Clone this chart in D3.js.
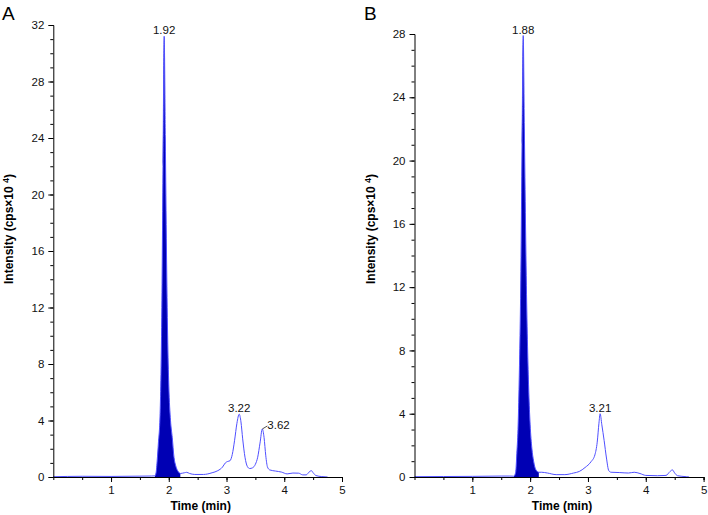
<!DOCTYPE html>
<html>
<head>
<meta charset="utf-8">
<script src="https://cdn.jsdelivr.net/npm/d3@7"></script>
<style>
  body { margin: 0; background: #fff; }
  svg { font-family: "Liberation Sans", Arial, sans-serif; }
</style>
</head>
<body>
<svg id="chart" width="708" height="515"></svg>
<script>
// Chromatogram A (time in min, intensity in cps x 10^4)
const timeA = [0, 0.5, 1.0, 1.5, 1.7, 1.76, 1.78, 1.80, 1.82, 1.85, 1.88, 1.90, 1.92, 1.94, 1.96, 1.98, 2.00, 2.03, 2.06, 2.09, 2.12, 2.16, 2.2,
  2.27, 2.31, 2.36, 2.45, 2.6, 2.75, 2.85, 2.93, 2.98, 3.02, 3.06, 3.1, 3.14, 3.18, 3.22, 3.25, 3.28, 3.32, 3.36, 3.4, 3.45, 3.5, 3.54, 3.58,
  3.62, 3.65, 3.68, 3.71, 3.75, 3.85, 3.95, 4.05, 4.15, 4.25, 4.32, 4.38, 4.43, 4.47, 4.5, 4.55, 4.65, 4.75];
const intensityA = [0.02, 0.05, 0.04, 0.06, 0.07, 0.08, 0.3, 1.2, 2.4, 4.5, 12, 22, 31.2, 24, 16, 10, 6.5, 4, 2.8, 1.4, 0.8, 0.4, 0.25,
  0.3, 0.33, 0.25, 0.18, 0.18, 0.3, 0.45, 0.7, 1.0, 1.1, 1.15, 1.6, 2.6, 3.8, 4.45, 3.9, 2.7, 1.4, 0.75, 0.6, 0.65, 0.9, 1.4, 2.4,
  3.4, 2.8, 1.5, 0.7, 0.5, 0.42, 0.35, 0.22, 0.28, 0.27, 0.15, 0.15, 0.35, 0.45, 0.3, 0.1, 0.03, 0];
const fillRangeA = [1.76, 2.2];
const peaksA = [
  { t: 1.92, y: 31.2, label: "1.92" },
  { t: 3.22, y: 4.45, label: "3.22" },
  { t: 3.62, y: 3.4, label: "3.62", leader: true }
];

// Chromatogram B
const timeB = [0, 0.5, 1.0, 1.5, 1.65, 1.72, 1.75, 1.77, 1.79, 1.81, 1.84, 1.86, 1.88, 1.90, 1.92, 1.94, 1.96, 1.98, 2.00, 2.03, 2.06, 2.10, 2.15,
  2.2, 2.3, 2.45, 2.6, 2.75, 2.85, 2.95, 3.05, 3.12, 3.16, 3.19, 3.21, 3.24, 3.28, 3.32, 3.36, 3.4, 3.55, 3.7, 3.8, 3.9, 4.0, 4.2, 4.35,
  4.42, 4.46, 4.5, 4.55, 4.7, 4.75];
const intensityB = [0.02, 0.03, 0.04, 0.06, 0.06, 0.05, 0.3, 1.5, 3, 6, 13, 21, 27.9, 22, 16, 11, 7.5, 5, 3.3, 1.8, 1, 0.45, 0.3,
  0.3, 0.25, 0.15, 0.15, 0.25, 0.35, 0.6, 0.95, 1.4, 2.2, 3.4, 4.0, 3.3, 2.3, 1.2, 0.4, 0.3, 0.28, 0.25, 0.3, 0.22, 0.1, 0.08, 0.1,
  0.35, 0.45, 0.25, 0.08, 0.02, 0];
const fillRangeB = [1.72, 2.15];
const peaksB = [
  { t: 1.88, y: 27.9, label: "1.88" },
  { t: 3.21, y: 4.0, label: "3.21" }
];

const xTickLabels = [1, 2, 3, 4, 5];

const svg = d3.select("#chart");
const fillColor = "#0000b4";
const lineColor = "#4f4fff";

function drawPanel(cfg) {
  const x = d3.scaleLinear().domain([0, 5]).range(cfg.xRange);
  const y = d3.scaleLinear().domain([0, cfg.yMax]).range(cfg.yRange);
  const g = svg.append("g");
  const pts = cfg.time.map((t, i) => ({ t: t, v: cfg.values[i] }));

  // filled main peak
  const area = d3.area().x(d => x(d.t)).y0(y(0)).y1(d => y(d.v)).curve(d3.curveMonotoneX);
  g.append("path")
    .datum(pts.filter(d => d.t >= cfg.fill[0] && d.t <= cfg.fill[1]))
    .attr("d", area)
    .attr("fill", fillColor);

  // trace
  const line = d3.line().x(d => x(d.t)).y(d => y(d.v)).curve(d3.curveMonotoneX);
  g.append("path")
    .datum(pts)
    .attr("d", line)
    .attr("fill", "none")
    .attr("stroke", lineColor)
    .attr("stroke-width", 1);

  // x axis: minor ticks every 0.5, labels on integers
  const xAxis = g.append("g").attr("transform", `translate(0,${y(0)})`);
  xAxis.call(d3.axisBottom(x).tickValues(d3.range(0.5, 5.01, 0.5)).tickSize(3).tickFormat(""));
  xAxis.append("g").call(d3.axisBottom(x).tickValues(xTickLabels).tickSize(5).tickPadding(4).tickFormat(d3.format("d")));

  // y axis: minor ticks every 1, labels every 4
  const yAxis = g.append("g").attr("transform", `translate(${x(0)},0)`);
  yAxis.call(d3.axisLeft(y).tickValues(d3.range(0, cfg.yMax + 0.1, 1)).tickSize(3).tickFormat(""));
  yAxis.append("g").call(d3.axisLeft(y).tickValues(d3.range(0, cfg.yMax + 0.1, 4)).tickSize(5).tickPadding(4).tickFormat(d3.format("d")));

  g.selectAll(".domain").attr("stroke", "#000");
  g.selectAll(".tick line").attr("stroke", "#000");
  g.selectAll(".tick text").attr("fill", "#111").style("font-size", "11.5px");
  yAxis.selectAll(".domain").filter((d, i) => i > 0).remove();
  xAxis.selectAll(".domain").filter((d, i) => i > 0).remove();

  // peak labels
  cfg.peaks.forEach(p => {
    const px = x(p.t), py = y(p.y);
    if (p.leader) {
      g.append("line")
        .attr("x1", px).attr("y1", py)
        .attr("x2", px + 5).attr("y2", py - 3)
        .attr("stroke", "#222").attr("stroke-width", 0.8);
      g.append("text")
        .attr("x", px + 5).attr("y", py)
        .attr("fill", "#111").style("font-size", "11.5px")
        .text(p.label);
    } else {
      g.append("text")
        .attr("x", px).attr("y", py - 2)
        .attr("text-anchor", "middle")
        .attr("fill", "#111").style("font-size", "11.5px")
        .text(p.label);
    }
  });

  // axis titles
  const xMid = (cfg.xRange[0] + cfg.xRange[1]) / 2;
  g.append("text")
    .attr("x", xMid + 3).attr("y", 510)
    .attr("text-anchor", "middle")
    .style("font-size", "12px").style("font-weight", "bold")
    .text("Time (min)");

  const yt = g.append("text")
    .attr("transform", `translate(${cfg.yTitleX},229) rotate(-90)`)
    .attr("text-anchor", "middle")
    .style("font-size", "12px").style("font-weight", "bold");
  yt.append("tspan").text("Intensity (cps×10 ");
  yt.append("tspan").attr("dy", -4).style("font-size", "9px").text("4");
  yt.append("tspan").attr("dy", 4).text(")");

  // panel letter
  g.append("text")
    .attr("x", cfg.letterX).attr("y", 20)
    .style("font-size", "19px")
    .text(cfg.letter);
}

drawPanel({
  letter: "A", letterX: 2, yTitleX: 13,
  time: timeA, values: intensityA, fill: fillRangeA, peaks: peaksA,
  yMax: 32, xRange: [53.3, 342], yRange: [477, 25]
});

drawPanel({
  letter: "B", letterX: 364, yTitleX: 375,
  time: timeB, values: intensityB, fill: fillRangeB, peaks: peaksB,
  yMax: 28, xRange: [414.5, 703.6], yRange: [477, 34]
});
</script>
</body>
</html>
